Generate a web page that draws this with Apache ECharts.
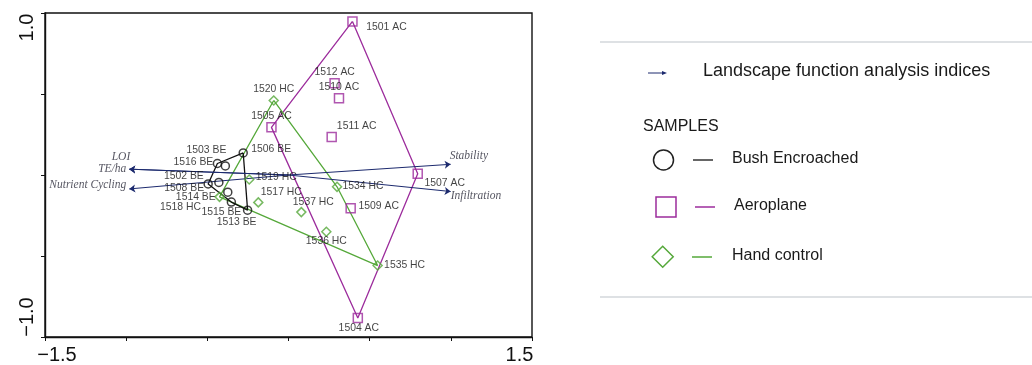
<!DOCTYPE html>
<html>
<head>
<meta charset="utf-8">
<script src="https://cdn.jsdelivr.net/npm/echarts@6/dist/echarts.min.js"></script>
<style>
html,body{margin:0;padding:0;background:#fff;}
#chart{width:1032px;height:365px;}
</style>
</head>
<body>
<div id="chart"></div>
<script>
// ---------- data ----------
const acNames = ['1501 AC','1512 AC','1510 AC','1511 AC','1505 AC','1507 AC','1509 AC','1504 AC'];
const acX = [0.394, 0.284, 0.311, 0.266, -0.105, 0.796, 0.383, 0.427];
const acY = [0.948, 0.567, 0.474, 0.234, 0.294, 0.007, -0.206, -0.883];
const acHull = ['1501 AC','1507 AC','1504 AC','1505 AC','1501 AC'];

const beNames = ['1506 BE','1503 BE','1516 BE','1502 BE','1508 BE','1514 BE','1515 BE','1513 BE'];
const beX = [-0.279, -0.438, -0.389, -0.429, -0.495, -0.374, -0.352, -0.252];
const beY = [0.136, 0.071, 0.056, -0.046, -0.055, -0.106, -0.167, -0.217];
const beHull = ['1506 BE','1503 BE','1508 BE','1515 BE','1513 BE','1506 BE'];

const hcNames = ['1520 HC','1519 HC','1534 HC','1517 HC','1537 HC','1536 HC','1535 HC','1518 HC'];
const hcX = [-0.091, -0.242, 0.299, -0.186, 0.079, 0.233, 0.549, -0.425];
const hcY = [0.460, -0.028, -0.073, -0.169, -0.229, -0.350, -0.559, -0.135];
const hcHull = ['1520 HC','1534 HC','1535 HC','1518 HC','1520 HC'];

const vecNames = ['LOI','TE/ha','Nutrient Cycling','Stability','Infiltration'];
const vecX = [-0.981, -0.981, -0.981, 0.999, 0.999];
const vecY = [0.036, 0.036, -0.086, 0.066, -0.102];

const xTickLabels = ['−1.5', '1.5'];
const yTickLabels = ['−1.0', '1.0'];

const legendTitle = 'Landscape function analysis indices';
const legendSamples = 'SAMPLES';
const groupNames = ['Bush Encroached', 'Aeroplane', 'Hand control'];

// ---------- styles (label offsets in px from point centre) ----------
const labelOffsets = {
  '1501 AC':[34,6],'1512 AC':[0,-11],'1510 AC':[0,-11],'1511 AC':[25,-11],'1505 AC':[0,-11],
  '1507 AC':[27,9],'1509 AC':[28,-2],'1504 AC':[1,10],
  '1520 HC':[0,-11],'1519 HC':[27,-2],'1534 HC':[26,-1],'1517 HC':[23,-10],'1537 HC':[12,-10],
  '1536 HC':[0,9],'1535 HC':[27,0],'1518 HC':[-39,10],
  '1506 BE':[28,-4],'1503 BE':[-11,-13],'1516 BE':[-32,-4],'1502 BE':[-35,-6],'1508 BE':[-24,4],
  '1514 BE':[-32,5],'1515 BE':[-10,10],'1513 BE':[-11,12]
};
const vecLabelStyle = {
  'LOI':{align:'right', off:[1,-12]},
  'TE/ha':{align:'right', off:[-3,0]},
  'Nutrient Cycling':{align:'right', off:[-3,-4]},
  'Stability':{align:'left', off:[-1,-8]},
  'Infiltration':{align:'left', off:[0,4]}
};
const PURPLE = '#9c2c9c', GREEN = '#55a83a', BLACK = '#111', NAVY = '#1c2a6e';
const SANS = '"Liberation Sans", Arial, sans-serif';
const SERIF = '"Liberation Serif", "Times New Roman", serif';

function pts(names, xs, ys){
  return names.map((n,i)=>({name:n, value:[xs[i], ys[i]],
    label:{show:true, position:'inside', align:'center', verticalAlign:'middle',
      offset: labelOffsets[n], formatter:'{b}', color:'#111', fontFamily:SANS, fontSize:10.4}}));
}
function hull(order, names, xs, ys){
  return order.map(n=>{const i = names.indexOf(n); return [xs[i], ys[i]];});
}
function scatter(name, data, symbol, color, size){
  return {
    type:'scatter', name, data, symbol, symbolSize:size, z:5,
    itemStyle:{color:'rgba(0,0,0,0)', borderColor:color, borderWidth:1.5}
  };
}
function hullLine(data, color){
  return {type:'line', data, symbol:'none', silent:true, z:3,
    lineStyle:{color, width:1.3}};
}

const vecSeries = {
  type:'lines', coordinateSystem:'cartesian2d', z:4,
  symbol:['none','arrow'], symbolSize:[0,6],
  lineStyle:{color:NAVY, width:1, opacity:1},
  data: vecNames.map((n,i)=>({coords:[[0,0],[vecX[i], vecY[i]]]}))
};
const vecLabels = {
  type:'scatter', symbolSize:0, silent:true, z:6,
  data: vecNames.map((n,i)=>({name:n, value:[vecX[i], vecY[i]],
    label:{show:true, position:'inside', align:vecLabelStyle[n].align,
      offset:vecLabelStyle[n].off, formatter:'{b}', color:'#2a2a3a',
      fontFamily:SERIF, fontStyle:'italic', fontSize:11.5}}))
};

const chart = echarts.init(document.getElementById('chart'), null, {renderer:'canvas'});
chart.setOption({
  animation:false,
  backgroundColor:'#fff',
  grid:{left:45, right:500, top:13, bottom:28, show:true, borderColor:'#111', borderWidth:1.4},
  xAxis:{
    type:'value', min:-1.5, max:1.5, interval:0.5,
    splitLine:{show:false},
    axisLine:{onZero:false, lineStyle:{color:'#111', width:1.4}},
    axisTick:{show:true, inside:false, length:4, lineStyle:{color:'#111'}},
    axisLabel:{margin:8, color:'#111', fontFamily:SANS, fontSize:20,
      formatter:(v)=> v===-1.5 ? '{a|'+xTickLabels[0]+'}' : (v===1.5 ? '{b|'+xTickLabels[1]+'}' : ''),
      rich:{a:{fontSize:20, fontFamily:SANS, color:'#111', padding:[0,0,0,24]},
            b:{fontSize:20, fontFamily:SANS, color:'#111', padding:[0,25,0,0]}}}
  },
  yAxis:{
    type:'value', min:-1, max:1, interval:0.5,
    splitLine:{show:false},
    axisLine:{onZero:false, lineStyle:{color:'#111', width:1.4}},
    axisTick:{show:true, inside:false, length:4, lineStyle:{color:'#111'}},
    axisLabel:{margin:8, rotate:90, color:'#111', fontFamily:SANS, fontSize:20,
      formatter:(v)=> v===-1 ? '{a|'+yTickLabels[0]+'}' : (v===1 ? '{b|'+yTickLabels[1]+'}' : ''),
      rich:{a:{fontSize:20, fontFamily:SANS, color:'#111', padding:[0,0,0,40]},
            b:{fontSize:20, fontFamily:SANS, color:'#111', padding:[0,29,0,0]}}}
  },
  series:[
    hullLine(hull(acHull, acNames, acX, acY), PURPLE),
    hullLine(hull(hcHull, hcNames, hcX, hcY), GREEN),
    hullLine(hull(beHull, beNames, beX, beY), BLACK),
    vecSeries, vecLabels,
    scatter(groupNames[1], pts(acNames, acX, acY), 'rect', PURPLE, 9),
    scatter(groupNames[2], pts(hcNames, hcX, hcY), 'diamond', GREEN, 9),
    scatter(groupNames[0], pts(beNames, beX, beY), 'circle', BLACK, 8)
  ],
  graphic:[
    {type:'line', shape:{x1:600,y1:42,x2:1032,y2:42}, style:{stroke:'#d3d7db', lineWidth:1.5}},
    {type:'line', shape:{x1:600,y1:297,x2:1032,y2:297}, style:{stroke:'#d3d7db', lineWidth:1.5}},
    {type:'line', shape:{x1:648,y1:73,x2:664,y2:73}, style:{stroke:NAVY, lineWidth:1}},
    {type:'polygon', shape:{points:[[662,71],[667,73],[662,75]]}, style:{fill:NAVY}},
    {type:'text', left:703, top:62, style:{text:legendTitle, font:'18px "Liberation Sans", Arial, sans-serif', fill:'#1a1a1a'}},
    {type:'text', left:643, top:119, style:{text:legendSamples, font:'16px "Liberation Sans", Arial, sans-serif', fill:'#1a1a1a'}},
    {type:'circle', shape:{cx:663.5, cy:160, r:10}, style:{fill:'none', stroke:'#222', lineWidth:1.5}},
    {type:'line', shape:{x1:693,y1:160,x2:713,y2:160}, style:{stroke:'#333', lineWidth:1.5}},
    {type:'text', left:732, top:151, style:{text:groupNames[0], font:'16px "Liberation Sans", Arial, sans-serif', fill:'#1a1a1a'}},
    {type:'rect', shape:{x:656, y:197, width:20, height:20}, style:{fill:'none', stroke:PURPLE, lineWidth:1.5}},
    {type:'line', shape:{x1:695,y1:207,x2:715,y2:207}, style:{stroke:PURPLE, lineWidth:1.5}},
    {type:'text', left:734, top:198, style:{text:groupNames[1], font:'16px "Liberation Sans", Arial, sans-serif', fill:'#1a1a1a'}},
    {type:'polygon', shape:{points:[[662.7,246.2],[673.2,256.7],[662.7,267.2],[652.2,256.7]]}, style:{fill:'none', stroke:GREEN, lineWidth:1.5}},
    {type:'line', shape:{x1:692,y1:257,x2:712,y2:257}, style:{stroke:GREEN, lineWidth:1.5}},
    {type:'text', left:732, top:248, style:{text:groupNames[2], font:'16px "Liberation Sans", Arial, sans-serif', fill:'#1a1a1a'}}
  ]
});
</script>
</body>
</html>
